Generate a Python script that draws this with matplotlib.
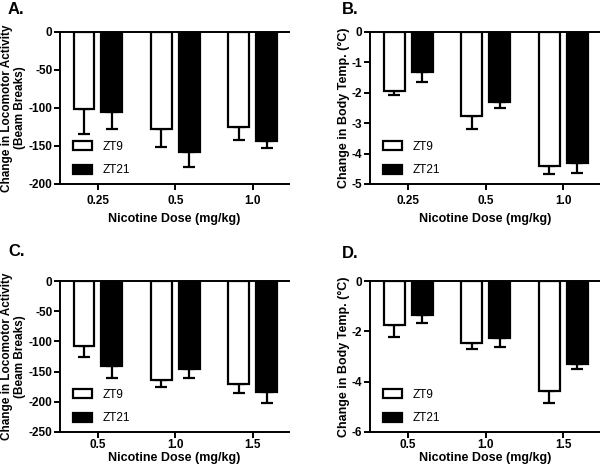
import numpy as np
import matplotlib
matplotlib.use("Agg")
import matplotlib.pyplot as plt

plt.rcParams['font.family'] = ['Liberation Sans', 'DejaVu Sans']
plt.rcParams['axes.unicode_minus'] = False

# Panel A: locomotor activity, doses 0.25 / 0.5 / 1.0
doses_a = ['0.25', '0.5', '1.0']
loco_a_zt9 = [-101, -128, -125]
loco_a_zt9_err = [33, 23, 17]
loco_a_zt21 = [-105, -158, -143]
loco_a_zt21_err = [22, 19, 9]

# Panel B: body temperature, doses 0.25 / 0.5 / 1.0
temp_b_zt9 = [-1.95, -2.75, -4.40]
temp_b_zt9_err = [0.12, 0.43, 0.28]
temp_b_zt21 = [-1.30, -2.30, -4.30]
temp_b_zt21_err = [0.36, 0.21, 0.33]

# Panel C: locomotor activity, doses 0.5 / 1.0 / 1.5
doses_c = ['0.5', '1.0', '1.5']
loco_c_zt9 = [-108, -164, -170]
loco_c_zt9_err = [17, 12, 16]
loco_c_zt21 = [-140, -145, -184]
loco_c_zt21_err = [20, 16, 18]

# Panel D: body temperature, doses 0.5 / 1.0 / 1.5
temp_d_zt9 = [-1.73, -2.45, -4.39]
temp_d_zt9_err = [0.49, 0.27, 0.46]
temp_d_zt21 = [-1.35, -2.27, -3.30]
temp_d_zt21_err = [0.32, 0.34, 0.21]

W, H = 600, 468
fig = plt.figure(figsize=(W / 100, H / 100), dpi=100)


def px_axes(left, top, right, bottom):
    return fig.add_axes([left / W, 1 - bottom / H, (right - left) / W, (bottom - top) / H])


def panel(ax, doses, zt9, zt9_err, zt21, zt21_err, ymin, ystep, ylabel, ysize, xpad=2):
    x = np.arange(len(doses))
    w = 0.27
    off = 0.18
    ax.bar(x - off, zt9, w, color='white', edgecolor='black', linewidth=1.6, label='ZT9', zorder=2)
    ax.bar(x + off, zt21, w, color='black', edgecolor='black', linewidth=1.6, label='ZT21', zorder=2)
    ax.errorbar(x - off, zt9, yerr=[zt9_err, np.zeros(len(x))], fmt='none', ecolor='black',
                elinewidth=1.6, capsize=4.5, capthick=1.6, zorder=1)
    ax.errorbar(x + off, zt21, yerr=[zt21_err, np.zeros(len(x))], fmt='none', ecolor='black',
                elinewidth=1.6, capsize=4.5, capthick=1.6, zorder=1)
    ax.set_xlim(-0.49, 2.47)
    ax.set_ylim(ymin, 0)
    ax.set_yticks(np.arange(ymin, 0.001, ystep))
    ax.set_xticks(x)
    ax.set_xticklabels(doses)
    for s in ['left', 'top', 'bottom']:
        ax.spines[s].set_linewidth(1.4)
    ax.spines['right'].set_visible(False)
    ax.tick_params(axis='both', direction='out', length=4, width=1.4, labelsize=8.5, pad=1.5)
    ax.tick_params(axis='x', pad=xpad)
    ax.tick_params(top=False)
    for t in ax.get_xticklabels() + ax.get_yticklabels():
        t.set_fontweight('bold')
    ax.set_xlabel('Nicotine Dose (mg/kg)', fontsize=9, fontweight='bold', labelpad=4)
    ax.set_ylabel(ylabel, fontsize=ysize, fontweight='bold', labelpad=1.5, linespacing=1.2)
    ax.legend(loc='lower left', bbox_to_anchor=(0.01, -0.02), frameon=False, fontsize=8.5,
              handlelength=1.6, handleheight=0.8, labelspacing=1.0, handletextpad=0.9)


loco_label = 'Change in Locomotor Activity\n(Beam Breaks)'
temp_label = 'Change in Body Temp. (\u00b0C)'

ax_a = px_axes(60, 32, 289, 184)
panel(ax_a, doses_a, loco_a_zt9, loco_a_zt9_err, loco_a_zt21, loco_a_zt21_err, -200, 50,
      loco_label, 8.5, xpad=4)
ax_b = px_axes(370, 32, 600, 184)
panel(ax_b, doses_a, temp_b_zt9, temp_b_zt9_err, temp_b_zt21, temp_b_zt21_err, -5, 1,
      temp_label, 9, xpad=4)
ax_c = px_axes(60, 281, 289, 432)
panel(ax_c, doses_c, loco_c_zt9, loco_c_zt9_err, loco_c_zt21, loco_c_zt21_err, -250, 50,
      loco_label, 8.5, xpad=1)
ax_d = px_axes(370, 281, 600, 432)
panel(ax_d, doses_c, temp_d_zt9, temp_d_zt9_err, temp_d_zt21, temp_d_zt21_err, -6, 2,
      temp_label, 9, xpad=1)
for ax in (ax_c, ax_d):
    ax.xaxis.labelpad = 1

for lab, xp, yp in [('A.', 8, 10), ('B.', 342, 10), ('C.', 8, 252), ('D.', 342, 254)]:
    fig.text(xp / W, 1 - yp / H, lab, fontsize=12, fontweight='bold', va='center', ha='left')

fig.savefig('out.png', dpi=100)
